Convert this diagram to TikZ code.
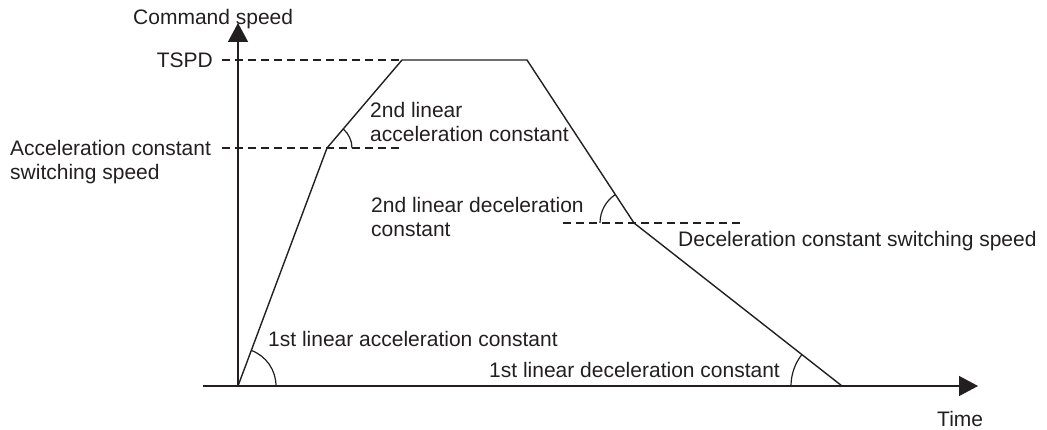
\documentclass[tikz,border=0pt]{standalone}
\usepackage{fontspec}
\setmainfont{Liberation Sans}
\usepackage{tikz}
\usetikzlibrary{arrows.meta,positioning,calc}
\usepackage{xcolor}
\definecolor{ink}{HTML}{231F20}
\tikzset{
  axis/.style={-{Triangle[length=19pt,width=20pt]},line width=1.4pt,color=ink},
  prof/.style={line width=1.4pt,color=ink,line join=miter},
  guide/.style={line width=1.2pt,color=ink,dash pattern=on 8pt off 5pt},
  angarc/.style={line width=1.2pt,color=ink},
  lbl/.style={inner sep=0pt,text=ink,font=\fontsize{21}{24.5}\selectfont},
}

\begin{document}
\begin{tikzpicture}[x=1pt,y=1pt]
  \useasboundingbox (-238,-44) rectangle (809,386);

  % speed profile corners
  \coordinate (O) at (0,0);
  \coordinate (A) at (89,238);
  \coordinate (B) at (164,326);
  \coordinate (C) at (289,326);
  \coordinate (D) at (396,163);
  \coordinate (E) at (604,0);

  % axes
  \coordinate (xs) at (-35,0);
  \coordinate (xe) at (740,0);
  \coordinate (ye) at (0,363);
  \draw[axis] (xs) -- (xe);
  \draw[axis] (O) -- (ye);

  % guide lines
  \coordinate (ts) at (-16,326);
  \coordinate (as) at (-16,238);
  \coordinate (ae) at (162,238);
  \coordinate (ds) at (325,163);
  \coordinate (de) at (504,163);
  \draw[guide] (ts) -- (B);
  \draw[guide] (as) -- (ae);
  \draw[guide] (ds) -- (de);

  \draw[prof] (O) -- (A) -- (B) -- (C) -- (D) -- (E);

  % angle marks
  \draw[angarc] ([shift=(0:38)]O) arc (0:69.3:38);
  \draw[angarc] ([shift=(0:25)]A) arc (0:49.6:25);
  \draw[angarc] ([shift=(123.3:34)]D) arc (123.3:180:34);
  \draw[angarc] ([shift=(142:51)]E) arc (142:180:51);

  % labels
  \node[lbl,anchor=base west] (cmd) at (-105,361) {Command speed};
  \node[lbl,anchor=base east] (tspd) at (-25,318) {TSPD};
  \node[lbl,anchor=north west,align=left] (acsw) at (-228,246) {Acceleration constant\\switching speed};
  \node[lbl,anchor=north west,align=left] (acc2) at (132,284) {2nd linear\\acceleration constant};
  \node[lbl,anchor=north west,align=left] (dec2) at (133,189) {2nd linear deceleration\\constant};
  \node[lbl,anchor=base west] (desw) at (440,139) {Deceleration constant switching speed};
  \node[lbl,anchor=base west] (acc1) at (30,39) {1st linear acceleration constant};
  \node[lbl,anchor=base west] (dec1) at (251,8) {1st linear deceleration constant};
  \node[lbl,anchor=base west] (time) at (699,-41) {Time};
\end{tikzpicture}
\end{document}
